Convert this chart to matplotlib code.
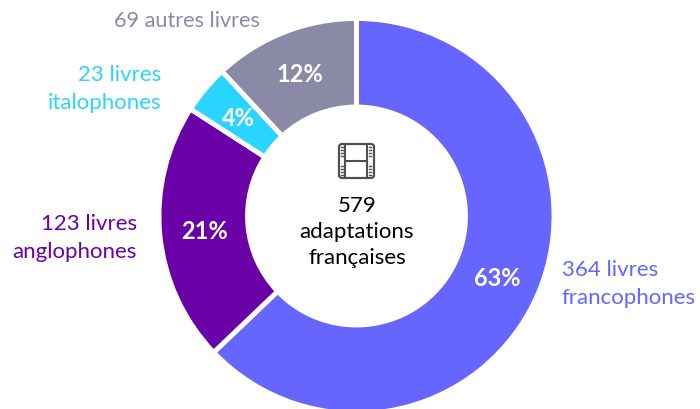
import matplotlib
matplotlib.use("Agg")
import matplotlib.pyplot as plt
from matplotlib.patches import FancyBboxPatch

VALUES = [364, 123, 23, 69]
COLORS = ["#6666FF", "#6A00A8", "#29D4FF", "#8A8AA6"]
PCT_LABELS = ["63%", "21%", "4%", "12%"]
plt.rcParams["font.family"] = ["Lato", "DejaVu Sans"]

W, H = 700, 410
fig = plt.figure(figsize=(W / 100, H / 100), dpi=100)
ax = fig.add_axes([0, 0, 1, 1])

cx, cy, r = 356.5, 217, 197.5
# y inverse : on trace dans le sens horaire via counterclock
ax.pie(VALUES, colors=COLORS, startangle=-90, counterclock=True, center=(cx, cy), radius=r,
       frame=True, wedgeprops=dict(width=r - 109, edgecolor="white", linewidth=3.5))
ax.set_xlim(0, W)
ax.set_ylim(H, 0)
ax.set_aspect("equal")
ax.axis("off")

pct_pos = [(497, 279), (204, 232), (238, 118), (300, 75)]
for (x, y), s in zip(pct_pos, PCT_LABELS):
    ax.text(x, y, s, color="white", fontsize=17, fontweight="bold", ha="center", va="center")

ax.text(357, 232, "579\nadaptations\nfrançaises", fontsize=16, ha="center", va="center",
        color="black", linespacing=1.38)
ax.text(562, 284, "364 livres\nfrancophones", fontsize=16, ha="left", va="center",
        color=COLORS[0], linespacing=1.5)
ax.text(137, 238, "123 livres\nanglophones", fontsize=16, ha="right", va="center",
        color=COLORS[1], linespacing=1.5)
ax.text(161, 89, "23 livres\nitalophones", fontsize=16, ha="right", va="center",
        color=COLORS[2], linespacing=1.5)
ax.text(260, 21, "69 autres livres", fontsize=15.6, ha="right", va="center", color=COLORS[3])

# icone pellicule
ic = "#505050"
ax.add_patch(FancyBboxPatch((339, 145), 35, 34, boxstyle="round,pad=0,rounding_size=3",
                            fill=False, edgecolor=ic, linewidth=1.6))
ax.plot([345.5, 345.5], [145, 179], color=ic, lw=1.5)
ax.plot([367.5, 367.5], [145, 179], color=ic, lw=1.5)
ax.plot([345.5, 367.5], [162, 162], color=ic, lw=1.5)
for yy in (148, 151, 154, 157, 167, 170, 173, 176):
    ax.plot([341.5, 343.5], [yy, yy], color=ic, lw=1)
    ax.plot([369.5, 371.5], [yy, yy], color=ic, lw=1)

fig.savefig("out.png", dpi=100)
